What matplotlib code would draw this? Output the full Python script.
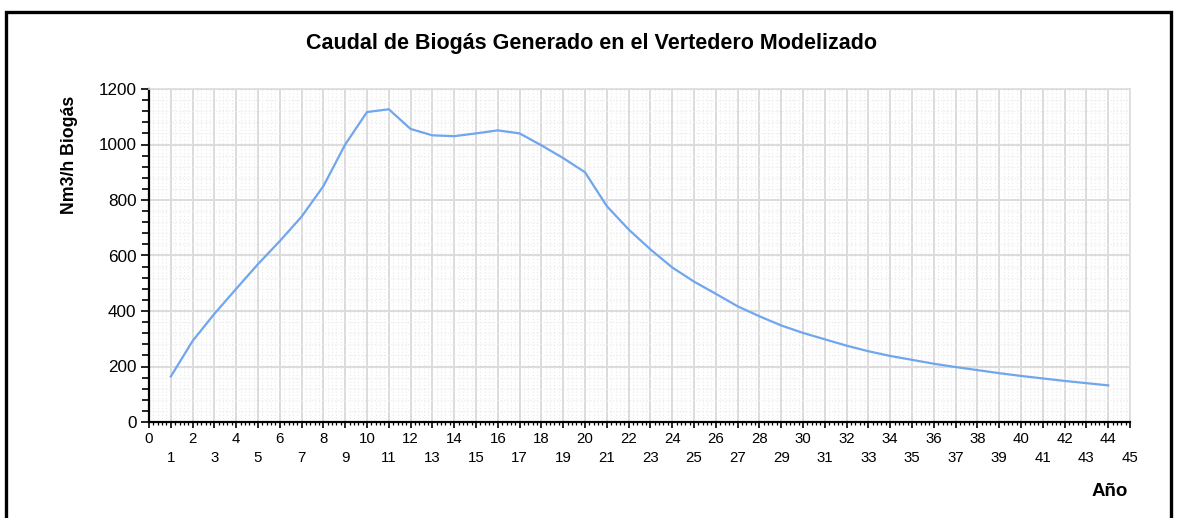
#!/usr/bin/python
# encoding:utf-8
"""
Caudal de biogás generado en el vertedero modelizado (Nm3/h por año)
"""

import matplotlib
matplotlib.use('Agg')
import matplotlib.pyplot as plt
from matplotlib.patches import Rectangle
from matplotlib.ticker import MultipleLocator

plt.rcParams['font.family'] = ['Liberation Sans', 'DejaVu Sans']

# datos
anos = list(range(1, 45))
caudal = [164, 292, 390, 480, 569, 652, 740, 850, 1000, 1117,
          1127, 1056, 1033, 1030, 1040, 1051, 1040, 997, 951, 900,
          778, 694, 622, 557, 506, 462, 417, 381, 348, 321,
          298, 275, 255, 238, 224, 210, 198, 187, 176, 166,
          157, 148, 140, 132]

titulo = u"Caudal de Biogás Generado en el Vertedero Modelizado"
etiqueta_y = u"Nm3/h Biogás"
etiqueta_x = u"Año"


def draw():
    fig = plt.figure(figsize=(11.77, 5.18), dpi=100)
    ax = fig.add_axes([149 / 1177., 1 - 422 / 518., 981 / 1177., 333 / 518.])

    ax.plot(anos, caudal, color='#6fa6ee', linewidth=1.6, zorder=3)

    ax.set_xlim(0, 45)
    ax.set_ylim(0, 1200)
    ax.xaxis.set_major_locator(MultipleLocator(1))
    ax.xaxis.set_minor_locator(MultipleLocator(0.2))
    ax.yaxis.set_major_locator(MultipleLocator(200))
    ax.yaxis.set_minor_locator(MultipleLocator(40))

    # etiquetas del eje x en dos filas (pares arriba, impares abajo)
    xt = list(range(0, 46))
    ax.set_xticks(xt)
    ax.set_xticklabels([str(i) if i % 2 == 0 else '\n' + str(i) for i in xt])
    for lbl in ax.get_xticklabels():
        lbl.set_linespacing(1.5)

    ax.grid(which='minor', color='#ececec', linestyle=':', linewidth=0.9)
    ax.grid(which='major', color='#dcdcdc', linestyle='-', linewidth=1.4)
    ax.set_axisbelow(True)

    ax.tick_params(axis='x', which='major', length=4, width=1.2, labelsize=10.8, pad=3)
    ax.tick_params(axis='x', which='minor', length=2.2, width=0.9)
    ax.tick_params(axis='y', which='major', length=6, width=1.2, labelsize=12.3, pad=3)
    ax.tick_params(axis='y', which='minor', length=5, width=1.2)

    for s in ['left', 'bottom']:
        ax.spines[s].set_linewidth(1.6)
        ax.spines[s].set_color('black')
    for s in ['top', 'right']:
        ax.spines[s].set_color('#dcdcdc')
        ax.spines[s].set_linewidth(1.2)

    fig.text(592 / 1177., 1 - 44 / 518., titulo, ha='center', va='center',
             fontsize=15.5, fontweight='bold')
    fig.text(69 / 1177., 1 - 155 / 518., etiqueta_y, ha='center', va='center',
             rotation=90, fontsize=12.8, fontweight='bold')
    fig.text(1110 / 1177., 1 - 492 / 518., etiqueta_x, ha='center', va='center',
             fontsize=13.5, fontweight='bold')

    # marco exterior
    fig.patches.append(Rectangle((6 / 1177., -0.05), 1165 / 1177., 1.05 - 12 / 518.,
                                 transform=fig.transFigure, fill=False,
                                 edgecolor='black', linewidth=2.4))

    plt.savefig('out.png', dpi=100)


def main():
    draw()


if __name__ == '__main__':
    main()
